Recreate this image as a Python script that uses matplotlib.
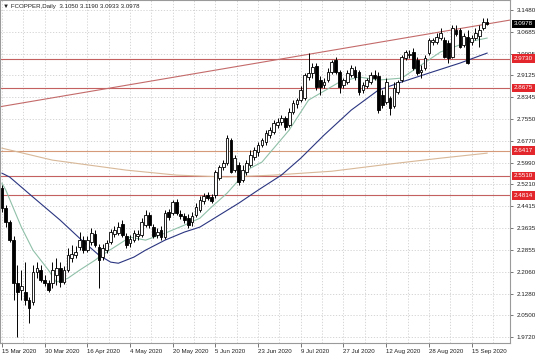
import matplotlib
matplotlib.use('Agg')
import matplotlib.pyplot as plt
import matplotlib.transforms as mtransforms

# ---------------- data ----------------
opens = [2.507, 2.435, 2.385, 2.320, 2.165, 2.140, 2.133, 2.104, 2.097, 2.205,
         2.212, 2.176, 2.165, 2.165, 2.194, 2.219, 2.169, 2.212, 2.255, 2.266,
         2.295, 2.320, 2.284, 2.313, 2.342, 2.295, 2.259, 2.284, 2.313, 2.342,
         2.345, 2.378, 2.334, 2.309, 2.320, 2.334, 2.338, 2.374, 2.410, 2.367,
         2.338, 2.356, 2.331, 2.421, 2.417, 2.457, 2.414, 2.406, 2.399, 2.385,
         2.410, 2.428, 2.460, 2.482, 2.475, 2.482, 2.543, 2.583, 2.597, 2.680,
         2.572, 2.590, 2.536, 2.565, 2.590, 2.619, 2.637, 2.662, 2.673, 2.698,
         2.709, 2.734, 2.745, 2.759, 2.734, 2.781, 2.810, 2.824, 2.831, 2.907,
         2.921, 2.946, 2.896, 2.878, 2.896, 2.925, 2.968, 2.925, 2.878, 2.889,
         2.914, 2.932, 2.925, 2.860, 2.874, 2.889, 2.914, 2.910, 2.842, 2.817,
         2.831, 2.802, 2.853, 2.896, 2.975, 2.986, 2.997, 2.968, 2.925, 2.939,
         2.993, 3.033, 3.033, 3.047, 3.040, 3.029, 2.979, 3.076, 3.076, 3.022,
         3.051, 3.033, 3.047, 3.054, 3.083, 3.1050]
highs = [2.518, 2.446, 2.392, 2.334, 2.230, 2.212, 2.241, 2.115, 2.230, 2.241,
         2.230, 2.194, 2.176, 2.241, 2.255, 2.241, 2.226, 2.291, 2.302, 2.298,
         2.349, 2.334, 2.334, 2.363, 2.356, 2.306, 2.306, 2.320, 2.360, 2.370,
         2.385, 2.392, 2.345, 2.338, 2.356, 2.356, 2.399, 2.428, 2.421, 2.378,
         2.363, 2.370, 2.428, 2.432, 2.464, 2.468, 2.428, 2.417, 2.414, 2.421,
         2.453, 2.478, 2.489, 2.493, 2.486, 2.572, 2.590, 2.608, 2.698, 2.687,
         2.626, 2.601, 2.590, 2.608, 2.644, 2.655, 2.673, 2.687, 2.716, 2.727,
         2.752, 2.759, 2.770, 2.766, 2.795, 2.824, 2.831, 2.874, 2.921, 2.993,
         2.957, 2.957, 2.910, 2.903, 2.939, 2.968, 2.979, 2.932, 2.903, 2.932,
         2.950, 2.946, 2.932, 2.889, 2.903, 2.925, 2.932, 2.925, 2.860, 2.903,
         2.838, 2.889, 2.896, 2.986, 3.004, 3.004, 3.011, 2.979, 2.950, 2.986,
         3.047, 3.047, 3.065, 3.083, 3.051, 3.040, 3.094, 3.094, 3.083, 3.065,
         3.076, 3.058, 3.083, 3.094, 3.119, 3.1190]
lows = [2.421, 2.367, 2.313, 2.104, 1.971, 2.104, 2.086, 2.021, 2.086, 2.183,
        2.169, 2.154, 2.133, 2.147, 2.158, 2.151, 2.162, 2.205, 2.241, 2.255,
        2.284, 2.273, 2.277, 2.302, 2.295, 2.147, 2.248, 2.273, 2.306, 2.331,
        2.338, 2.331, 2.291, 2.295, 2.313, 2.320, 2.331, 2.367, 2.363, 2.327,
        2.327, 2.320, 2.324, 2.392, 2.410, 2.410, 2.396, 2.381, 2.363, 2.370,
        2.403, 2.421, 2.450, 2.464, 2.453, 2.471, 2.536, 2.572, 2.590, 2.561,
        2.565, 2.518, 2.529, 2.554, 2.583, 2.608, 2.622, 2.655, 2.662, 2.687,
        2.702, 2.723, 2.734, 2.716, 2.727, 2.774, 2.795, 2.817, 2.824, 2.896,
        2.903, 2.860, 2.842, 2.867, 2.889, 2.918, 2.918, 2.849, 2.867, 2.882,
        2.907, 2.896, 2.842, 2.849, 2.867, 2.882, 2.896, 2.777, 2.795, 2.810,
        2.770, 2.795, 2.846, 2.889, 2.968, 2.975, 2.932, 2.914, 2.903, 2.932,
        2.986, 3.022, 3.026, 3.040, 2.975, 2.957, 2.975, 3.054, 3.011, 3.015,
        2.954, 3.022, 3.040, 3.015, 3.076, 3.0933]
closes = [2.435, 2.385, 2.320, 2.165, 2.133, 2.154, 2.104, 2.075, 2.205, 2.219,
          2.176, 2.165, 2.140, 2.212, 2.219, 2.169, 2.212, 2.266, 2.270, 2.277,
          2.320, 2.284, 2.320, 2.345, 2.302, 2.248, 2.291, 2.309, 2.349, 2.356,
          2.367, 2.338, 2.302, 2.324, 2.345, 2.342, 2.385, 2.410, 2.374, 2.334,
          2.349, 2.331, 2.417, 2.403, 2.457, 2.417, 2.406, 2.392, 2.374, 2.406,
          2.439, 2.464, 2.478, 2.471, 2.460, 2.565, 2.583, 2.597, 2.687, 2.565,
          2.615, 2.529, 2.572, 2.597, 2.626, 2.644, 2.662, 2.680, 2.705, 2.716,
          2.741, 2.745, 2.759, 2.727, 2.781, 2.813, 2.824, 2.860, 2.914, 2.921,
          2.943, 2.871, 2.871, 2.889, 2.925, 2.961, 2.925, 2.871, 2.896, 2.921,
          2.939, 2.907, 2.853, 2.878, 2.896, 2.914, 2.903, 2.788, 2.806, 2.889,
          2.795, 2.867, 2.889, 2.979, 2.997, 2.990, 2.939, 2.921, 2.932, 2.975,
          3.040, 3.040, 3.051, 3.065, 2.979, 2.975, 3.083, 3.062, 3.015, 3.054,
          2.957, 3.047, 3.065, 3.076, 3.105, 3.0978]

fast_ma_bars = [0, 1, 5, 8, 12, 14, 17, 20, 24, 25, 29, 33, 37, 42, 47, 51, 54,
                58, 61, 64, 67, 74, 79, 87, 92, 97, 103, 108, 113, 120, 125]
fast_ma = [2.525, 2.500, 2.367, 2.284, 2.212, 2.169, 2.183, 2.212, 2.248, 2.259,
           2.295, 2.331, 2.320, 2.345, 2.374, 2.399, 2.439, 2.489, 2.536, 2.579,
           2.601, 2.716, 2.824, 2.889, 2.907, 2.896, 2.903, 2.950, 2.997, 3.033, 3.047]

slow_ma_bars = [0, 2, 8, 15, 20, 25, 28, 30, 34, 37, 42, 47, 51, 56, 61, 66, 72,
                77, 83, 90, 97, 103, 110, 118, 125]
slow_ma = [2.561, 2.547, 2.475, 2.392, 2.327, 2.266, 2.241, 2.237, 2.259, 2.284,
           2.320, 2.349, 2.367, 2.410, 2.453, 2.500, 2.554, 2.615, 2.698, 2.788,
           2.860, 2.889, 2.921, 2.957, 2.993]

long_ma_bars = [0, 13, 32, 45, 58, 70, 85, 100, 113, 125]
long_ma = [2.651, 2.608, 2.572, 2.554, 2.547, 2.554, 2.568, 2.594, 2.615, 2.633]

trend_bars = [-0.5, 131]
trend_prices = [2.800, 3.112]

level_prices = [2.9730, 2.8675, 2.6417, 2.5510, 2.4814]
level_labels = ['2.9730', '2.8675', '2.6417', '2.5510', '2.4814']

price_ticks = [3.1480, 3.0685, 2.9905, 2.9125, 2.8345, 2.7550, 2.6770, 2.5990,
               2.5210, 2.4415, 2.3635, 2.2855, 2.2060, 2.1280, 2.0500, 1.9720]
price_tick_labels = ['3.1480', '3.0685', '2.9905', '2.9125', '2.8345', '2.7550',
                     '2.6770', '2.5990', '2.5210', '2.4415', '2.3635', '2.2855',
                     '2.2060', '2.1280', '2.0500', '1.9720']

date_bars = [0, 11, 22, 33, 44, 55, 66, 77, 88, 99, 110, 121]
date_labels = ['15 Mar 2020', '30 Mar 2020', '16 Apr 2020', '4 May 2020',
               '20 May 2020', '5 Jun 2020', '23 Jun 2020', '9 Jul 2020',
               '27 Jul 2020', '12 Aug 2020', '28 Aug 2020', '15 Sep 2020']

title_text = '\u25bc FCOPPER,Daily  3.1050 3.1190 3.0933 3.0978'
last_price = 3.0978

# ---------------- figure ----------------
FONT = ['Liberation Sans', 'DejaVu Sans']
plt.rcParams['font.family'] = FONT

fig = plt.figure(figsize=(5.36, 3.57), dpi=100)
ax = fig.add_axes([0.0, 14 / 357, 510 / 536, 343 / 357])
ax.set_xlim(-0.5, 130.9)
ax.set_ylim(1.950, 3.184)

# grid
for p in price_ticks:
    ax.axhline(p, color='#cfcfcf', lw=0.6, ls=(0, (1.5, 2)), zorder=0)
k = 0.0
while k < 131:
    ax.axvline(k, color='#cfcfcf', lw=0.6, ls=(0, (1.5, 2)), zorder=0)
    k += 5.5

# horizontal levels
for p in level_prices:
    col = '#d49a7a' if abs(p - 2.6417) < 1e-6 else '#c46060'
    ax.axhline(p, color=col, lw=0.8, zorder=1)

# trendline
ax.plot(trend_bars, trend_prices, color='#c46a6a', lw=0.8, zorder=1)

# moving averages
ax.plot(long_ma_bars, long_ma, color='#d8b898', lw=0.8, zorder=2)
ax.plot(slow_ma_bars, slow_ma, color='#2a3580', lw=0.8, zorder=2)
ax.plot(fast_ma_bars, fast_ma, color='#8fc0a8', lw=0.8, zorder=2)

# candles
xs = list(range(len(opens)))
ax.vlines(xs, lows, highs, color='black', lw=0.7, zorder=3)
bottoms = [min(o, c) for o, c in zip(opens, closes)]
heights = [max(abs(c - o), 0.002) for o, c in zip(opens, closes)]
faces = ['white' if c >= o else 'black' for o, c in zip(opens, closes)]
ax.bar(xs, heights, bottom=bottoms, width=0.7, color=faces,
       edgecolor='black', linewidth=0.6, zorder=4)

# axes styling
for s in ax.spines.values():
    s.set_color('#9a9a9a')
    s.set_linewidth(0.8)
ax.yaxis.tick_right()
ax.set_yticks(price_ticks)
ax.set_yticklabels(price_tick_labels)
ax.tick_params(axis='y', length=2, width=0.6, color='#606060', pad=3,
               labelsize=4.5, labelcolor='#202020')
ax.set_xticks(date_bars)
ax.set_xticklabels(date_labels)
ax.tick_params(axis='x', length=3, width=0.6, color='#606060', pad=1.5,
               labelsize=4.4, labelcolor='#202020')
for lab in ax.get_xticklabels():
    lab.set_horizontalalignment('left')

# right-side level labels
trans = mtransforms.blended_transform_factory(ax.transAxes, ax.transData)
for p, lab in zip(level_prices, level_labels):
    ax.text(1.008, p, lab, transform=trans, ha='left', va='center',
            fontsize=4.5, color='white', zorder=10, clip_on=False,
            bbox=dict(boxstyle='square,pad=0.3', facecolor='#e3262b',
                      edgecolor='none'))
ax.text(1.008, last_price, '3.0978', transform=trans, ha='left', va='center',
        fontsize=4.5, color='white', zorder=10, clip_on=False,
        bbox=dict(boxstyle='square,pad=0.3', facecolor='black', edgecolor='none'))

ax.text(0.006, 0.987, title_text, transform=ax.transAxes, ha='left', va='top',
        fontsize=4.4, color='#202020', zorder=10)

fig.savefig('out.png', dpi=100, facecolor='white')
